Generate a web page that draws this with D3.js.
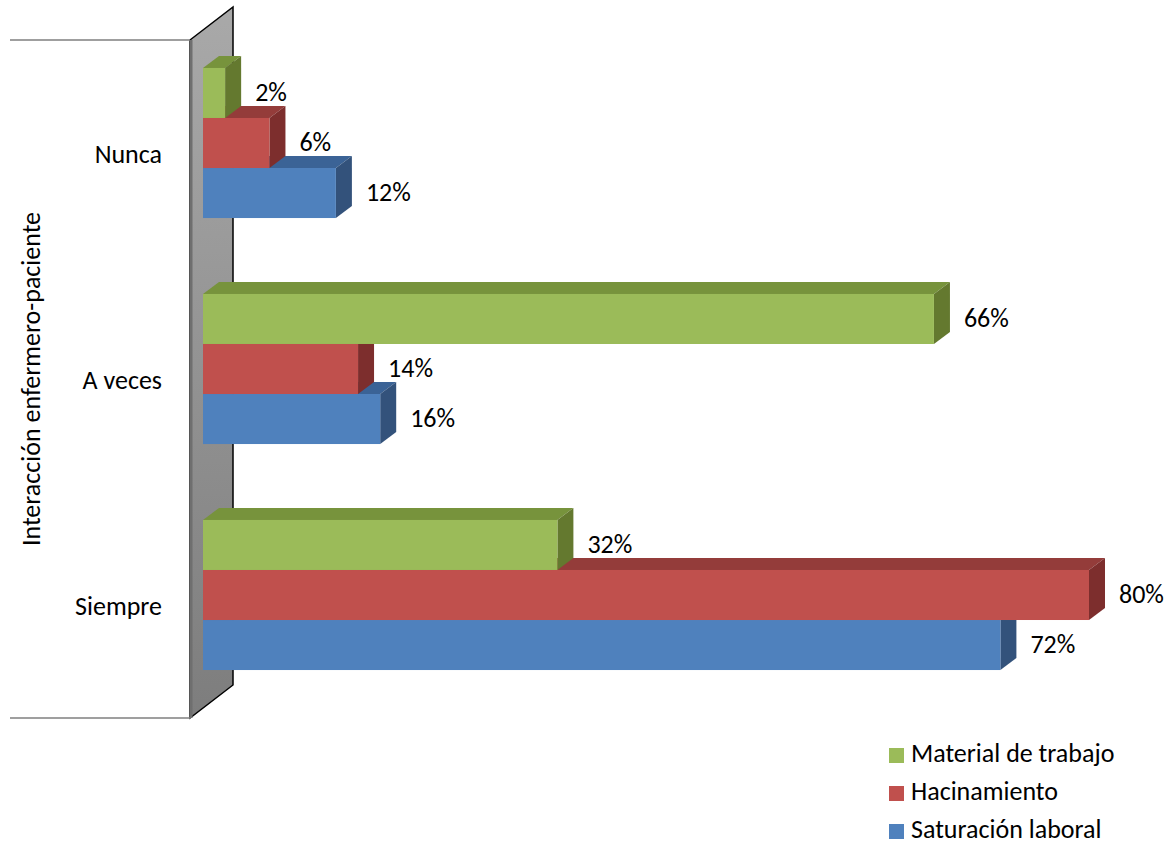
<!DOCTYPE html>
<html lang="es">
<head>
<meta charset="utf-8">
<title>Interacción enfermero-paciente</title>
<script src="https://cdn.jsdelivr.net/npm/d3@7"></script>
<style>
  body { margin: 0; background: #fff; }
  text { font-family: Carlito, Calibri, "Open Sans", sans-serif; fill: #000; }
</style>
</head>
<body>
<script>
// data
var categories = ["Nunca", "A veces", "Siempre"];
var seriesNames = ["Material de trabajo", "Hacinamiento", "Saturación laboral"];
var material = [2, 66, 32];
var hacinamiento = [6, 14, 80];
var saturacion = [12, 16, 72];
var axisTitle = "Interacción enfermero-paciente";

var colors = ["#9BBB59", "#C0504D", "#4F81BD"];
var topColors = ["#77933C", "#943C3A", "#3B6396"];
var sideColors = ["#64792F", "#7D2E2D", "#33527B"];

var values = [material, hacinamiento, saturacion];
var rows = [];
categories.forEach(function(c, ci) {
  seriesNames.forEach(function(s, si) {
    rows.push({cat: c, series: si, value: values[si][ci]});
  });
});

var W = 1171, H = 846;
var dx = 16, dy = -12;          // depth of a bar
var wallX = 190, wallDx = 43, wallDy = -33;
var plotTop = 40, plotBottom = 718;
var fs = 26;

var svg = d3.select("body").append("svg")
    .attr("width", W)
    .attr("height", H);

var defs = svg.append("defs");
var grad = defs.append("linearGradient")
    .attr("id", "wallGrad")
    .attr("x1", 0).attr("y1", 0).attr("x2", 0).attr("y2", 1);
grad.append("stop").attr("offset", "0%").attr("stop-color", "#a9a9a9");
grad.append("stop").attr("offset", "100%").attr("stop-color", "#7d7d7d");

var x = d3.scaleLinear()
    .domain([0, 80])
    .range([203, 1089]);

// band scale in the bar plane (slightly behind the front of the wall)
var y = d3.scaleBand()
    .domain(categories)
    .range([plotTop - 10, plotBottom - 10])
    .paddingInner(0.336)
    .paddingOuter(0.168);

var ySeries = d3.scaleBand()
    .domain(d3.range(seriesNames.length))
    .range([0, y.bandwidth()]);

// back wall
svg.append("path")
    .attr("d", "M" + wallX + "," + plotTop +
               "L" + (wallX + wallDx) + "," + (plotTop + wallDy) +
               "L" + (wallX + wallDx) + "," + (plotBottom + wallDy) +
               "L" + wallX + "," + plotBottom + "Z")
    .attr("fill", "url(#wallGrad)")
    .attr("stroke", "#000")
    .attr("stroke-width", 1.5);
svg.append("line")
    .attr("x1", wallX + 1).attr("x2", wallX + 1)
    .attr("y1", plotTop).attr("y2", plotBottom)
    .attr("stroke", "#6f6f6f").attr("stroke-width", 3);

// category axis lines
[plotTop, plotBottom].forEach(function(yy) {
  svg.append("line")
      .attr("x1", 10).attr("x2", wallX)
      .attr("y1", yy).attr("y2", yy)
      .attr("stroke", "#7f7f7f").attr("stroke-width", 1.5);
});

// bars: draw bottom series first so upper ones cover hidden faces
var order = rows.slice().sort(function(a, b) { return b.series - a.series; });
var bars = svg.append("g").selectAll("g")
    .data(order)
    .join("g");

function yTop(d) { return y(d.cat) + ySeries(d.series); }

bars.append("path")
    .attr("d", function(d) {
      var x0 = x(0), x1 = x(d.value), y0 = yTop(d);
      return "M" + x0 + "," + y0 + "L" + (x0 + dx) + "," + (y0 + dy) +
             "L" + (x1 + dx) + "," + (y0 + dy) + "L" + x1 + "," + y0 + "Z";
    })
    .attr("fill", function(d) { return topColors[d.series]; });

bars.append("path")
    .attr("d", function(d) {
      var x1 = x(d.value), y0 = yTop(d), y1 = y0 + ySeries.bandwidth();
      return "M" + x1 + "," + y0 + "L" + (x1 + dx) + "," + (y0 + dy) +
             "L" + (x1 + dx) + "," + (y1 + dy) + "L" + x1 + "," + y1 + "Z";
    })
    .attr("fill", function(d) { return sideColors[d.series]; });

bars.append("rect")
    .attr("x", x(0))
    .attr("y", yTop)
    .attr("width", function(d) { return x(d.value) - x(0); })
    .attr("height", ySeries.bandwidth())
    .attr("fill", function(d) { return colors[d.series]; });

// value labels
svg.append("g").selectAll("text")
    .data(rows)
    .join("text")
    .attr("x", function(d) { return x(d.value) + dx + 14; })
    .attr("y", function(d) { return yTop(d) + ySeries.bandwidth() / 2 + dy / 2 + 5; })
    .attr("dy", "0.35em")
    .attr("font-size", fs)
    .text(function(d) { return d.value + "%"; });

// category labels
svg.append("g").selectAll("text")
    .data(categories)
    .join("text")
    .attr("x", 162)
    .attr("y", function(d) { return y(d) + y.bandwidth() / 2 + 11; })
    .attr("dy", "0.35em")
    .attr("text-anchor", "end")
    .attr("font-size", fs)
    .text(function(d) { return d; });

// axis title
svg.append("text")
    .attr("transform", "translate(31," + ((plotTop + plotBottom) / 2) + ") rotate(-90)")
    .attr("text-anchor", "middle")
    .attr("dy", "0.35em")
    .attr("font-size", fs)
    .text(axisTitle);

// legend
var legend = svg.append("g").selectAll("g")
    .data(seriesNames)
    .join("g")
    .attr("transform", function(d, i) { return "translate(889," + (748 + i * 38) + ")"; });
legend.append("rect")
    .attr("width", 15).attr("height", 15)
    .attr("fill", function(d, i) { return colors[i]; });
legend.append("text")
    .attr("x", 22)
    .attr("y", 14)
    .attr("font-size", fs)
    .text(function(d) { return d; });
</script>
</body>
</html>
